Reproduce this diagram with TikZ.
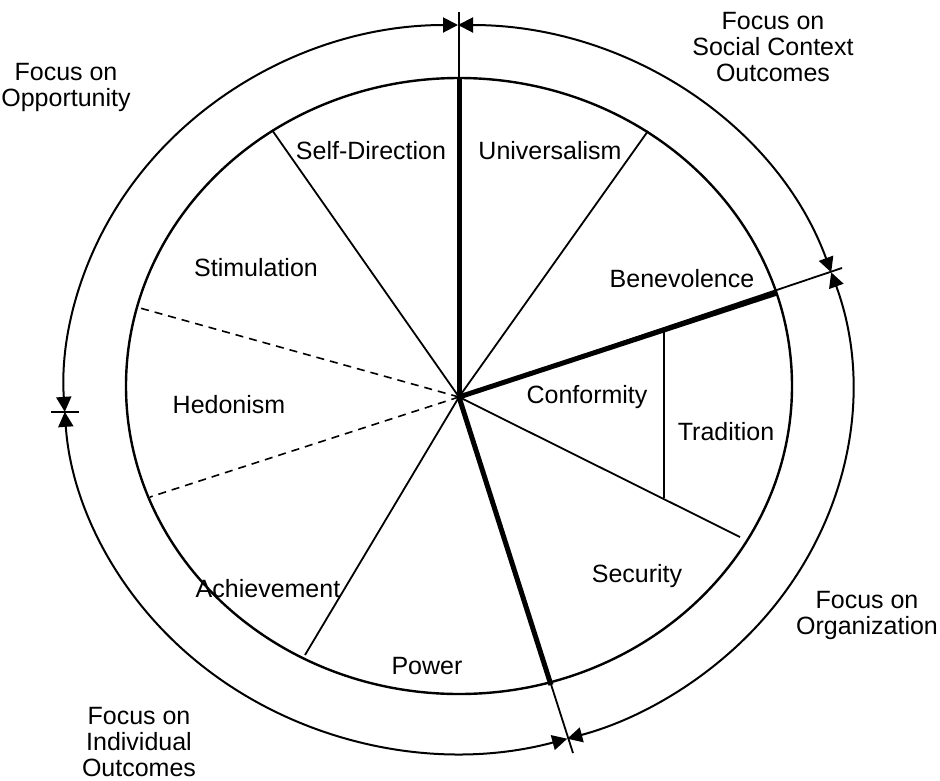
\documentclass[tikz,border=0pt]{standalone}
\usepackage{fontspec}
\setmainfont{Liberation Sans}
\usetikzlibrary{arrows.meta}

\begin{document}
\begin{tikzpicture}[x=1pt, y=-1pt, font=\fontsize{25}{26}\selectfont,
   spoke/.style={line width=1.8pt},
   border/.style={line width=5pt},
   split/.style={line width=1.6pt, dash pattern=on 8pt off 6pt},
   rim/.style={line width=2.4pt},
   focus/.style={line width=2pt, {Triangle[length=15pt, width=15pt]}-{Triangle[length=15pt, width=15pt]}},
   value/.style={anchor=base, inner sep=0pt},
   aim/.style={anchor=north, align=center, inner sep=0pt}]
   \useasboundingbox (0,0) rectangle (940,780);

   \coordinate (c) at (459,397);
   \coordinate (ring) at (458,389);
   \path (ring) ++(270:394 and 364) coordinate (top);
   \path (ring) ++(176.4:394 and 364) coordinate (left);
   \path (ring) ++(-18.7:394 and 364) coordinate (right);
   \path (ring) ++(73.9:394 and 364) coordinate (bottom);

   \coordinate (topend) at (459,12);
   \coordinate (topin) at (459,78);
   \coordinate (benend) at (842,268);
   \coordinate (benin) at (777,293);
   \coordinate (powend) at (573,753);
   \coordinate (powin) at (551,685);
   \coordinate (uni) at (648,131);
   \coordinate (sd) at (272,130);
   \coordinate (stim) at (140,308);
   \coordinate (hed) at (150,497);
   \coordinate (ach) at (305,655);
   \coordinate (sec) at (740,537);
   \coordinate (trtop) at (664,330);
   \coordinate (trbot) at (664,498);

   \draw[rim] (459,386) ellipse [x radius=333, y radius=308];

   \draw[spoke] (c) -- (topend);
   \draw[spoke] (c) -- (benend);
   \draw[spoke] (c) -- (powend);
   \draw[border] (c) -- (topin);
   \draw[border] (c) -- (benin);
   \draw[border] (c) -- (powin);
   \draw[spoke] (c) -- (uni);
   \draw[spoke] (c) -- (sd);
   \draw[spoke] (c) -- (ach);
   \draw[spoke] (c) -- (sec);
   \draw[spoke] (trtop) -- (trbot);
   \draw[split] (c) -- (stim);
   \draw[split] (c) -- (hed);

   \draw[spoke] ([xshift=-14pt]left) -- ([xshift=14pt]left);

   \draw[focus] (top) arc [start angle=270, end angle=176.4, x radius=394, y radius=364];
   \draw[focus] (top) arc [start angle=270, end angle=341.3, x radius=394, y radius=364];
   \draw[focus] (right) arc [start angle=-18.7, end angle=73.9, x radius=394, y radius=364];
   \draw[focus] (bottom) arc [start angle=73.9, end angle=176.4, x radius=394, y radius=364];

   \node[value] (selfdir) at (371,159) {Self-Direction};
   \node[value] (univ) at (550,159) {Universalism};
   \node[value] (benev) at (682,287) {Benevolence};
   \node[value] (stimul) at (256,276) {Stimulation};
   \node[value] (hedon) at (229,413) {Hedonism};
   \node[value] (conf) at (587,403) {Conformity};
   \node[value] (trad) at (726,440) {Tradition};
   \node[value] (achiev) at (268,597) {Achievement};
   \node[value] (secur) at (637,582) {Security};
   \node[value] (power) at (427,674) {Power};

   \node[aim] (opport) at (66,63) {Focus on\\Opportunity};
   \node[aim] (social) at (773,12) {Focus on\\Social Context\\Outcomes};
   \node[aim] (organ) at (867,591) {Focus on\\Organization};
   \node[aim] (indiv) at (139,707) {Focus on\\Individual\\Outcomes};
\end{tikzpicture}
\end{document}
